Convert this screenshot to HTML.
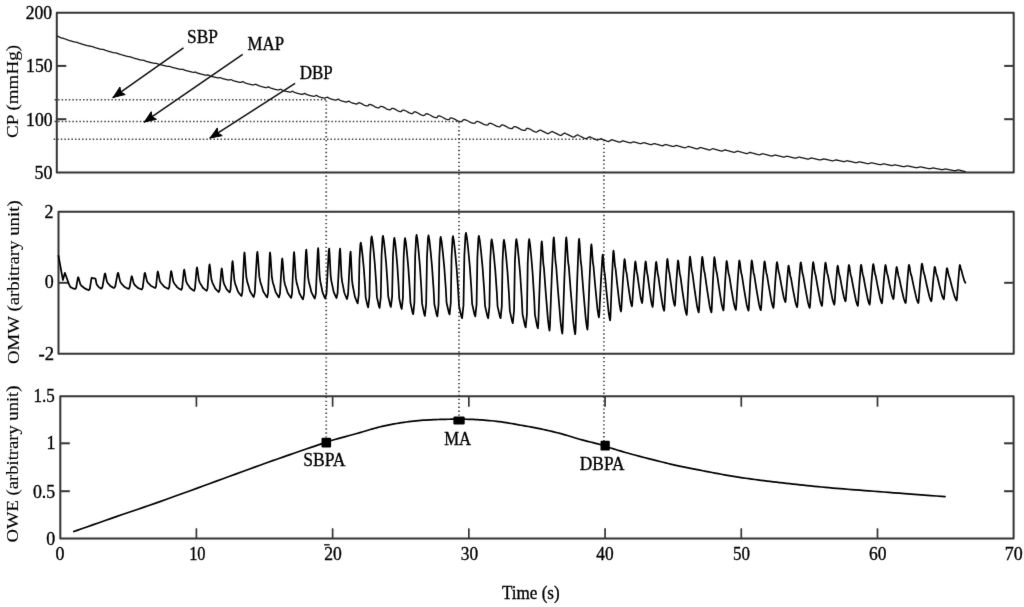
<!DOCTYPE html>
<html><head><meta charset="utf-8"><style>
html,body{margin:0;padding:0;background:#fff;width:1024px;height:607px;overflow:hidden;}
svg{display:block;filter:grayscale(1);}
text{font-family:"Liberation Serif", serif;stroke:#000;}
</style></head><body>
<svg width="1024" height="607" viewBox="0 0 1024 607" font-family='"Liberation Serif", serif' fill="#000">
<defs><filter id="bl" x="0" y="0" width="100%" height="100%" filterUnits="userSpaceOnUse"><feConvolveMatrix order="3" kernelMatrix="0.00716 0.0846 0.00716 0.0846 1 0.0846 0.00716 0.0846 0.00716" divisor="1.367" edgeMode="duplicate"/></filter></defs>
<rect width="1024" height="607" fill="#fff"/>
<g filter="url(#bl)">
<line x1="54.55" y1="99.75" x2="326.0" y2="99.75" stroke="#444" stroke-width="1.5" stroke-dasharray="1.5 2.05"/>
<line x1="54.55" y1="121.4" x2="459.0" y2="121.4" stroke="#444" stroke-width="1.5" stroke-dasharray="1.5 2.05"/>
<line x1="53.65" y1="139.2" x2="604.0" y2="139.2" stroke="#444" stroke-width="1.5" stroke-dasharray="1.5 2.05"/>
<line x1="326.2" y1="100.5" x2="326.2" y2="438.0" stroke="#555" stroke-width="1.9" stroke-dasharray="1.35 2.6"/>
<line x1="459.0" y1="122.2" x2="459.0" y2="416.8" stroke="#555" stroke-width="1.9" stroke-dasharray="1.35 2.6"/>
<line x1="603.9" y1="139.8" x2="603.9" y2="441.0" stroke="#555" stroke-width="1.9" stroke-dasharray="1.35 2.6"/>
<rect x="56.8" y="12.7" width="956.90" height="159.70" fill="none" stroke="#353535" stroke-width="2.0" stroke-linejoin="round"/>
<rect x="58.5" y="211.8" width="955.20" height="142.00" fill="none" stroke="#353535" stroke-width="2.0" stroke-linejoin="round"/>
<rect x="60.3" y="396.2" width="953.30" height="142.30" fill="none" stroke="#353535" stroke-width="2.0" stroke-linejoin="round"/>
<line x1="56.80" y1="65.90" x2="66.30" y2="65.90" stroke="#353535" stroke-width="2.0"/>
<line x1="1004.20" y1="65.90" x2="1013.70" y2="65.90" stroke="#353535" stroke-width="2.0"/>
<line x1="56.80" y1="119.20" x2="66.30" y2="119.20" stroke="#353535" stroke-width="2.0"/>
<line x1="1004.20" y1="119.20" x2="1013.70" y2="119.20" stroke="#353535" stroke-width="2.0"/>
<line x1="58.50" y1="282.80" x2="68.00" y2="282.80" stroke="#353535" stroke-width="2.0"/>
<line x1="1004.20" y1="282.80" x2="1013.70" y2="282.80" stroke="#353535" stroke-width="2.0"/>
<line x1="60.30" y1="443.30" x2="69.80" y2="443.30" stroke="#353535" stroke-width="2.0"/>
<line x1="1004.10" y1="443.30" x2="1013.60" y2="443.30" stroke="#353535" stroke-width="2.0"/>
<line x1="60.30" y1="491.20" x2="69.80" y2="491.20" stroke="#353535" stroke-width="2.0"/>
<line x1="1004.10" y1="491.20" x2="1013.60" y2="491.20" stroke="#353535" stroke-width="2.0"/>
<line x1="196.40" y1="528.30" x2="196.40" y2="538.50" stroke="#353535" stroke-width="1.7"/>
<line x1="196.40" y1="396.20" x2="196.40" y2="406.70" stroke="#353535" stroke-width="1.7"/>
<line x1="332.62" y1="528.30" x2="332.62" y2="538.50" stroke="#353535" stroke-width="1.7"/>
<line x1="332.62" y1="396.20" x2="332.62" y2="406.70" stroke="#353535" stroke-width="1.7"/>
<line x1="468.84" y1="528.30" x2="468.84" y2="538.50" stroke="#353535" stroke-width="1.7"/>
<line x1="468.84" y1="396.20" x2="468.84" y2="406.70" stroke="#353535" stroke-width="1.7"/>
<line x1="605.06" y1="528.30" x2="605.06" y2="538.50" stroke="#353535" stroke-width="1.7"/>
<line x1="605.06" y1="396.20" x2="605.06" y2="406.70" stroke="#353535" stroke-width="1.7"/>
<line x1="741.28" y1="528.30" x2="741.28" y2="538.50" stroke="#353535" stroke-width="1.7"/>
<line x1="741.28" y1="396.20" x2="741.28" y2="406.70" stroke="#353535" stroke-width="1.7"/>
<line x1="877.50" y1="528.30" x2="877.50" y2="538.50" stroke="#353535" stroke-width="1.7"/>
<line x1="877.50" y1="396.20" x2="877.50" y2="406.70" stroke="#353535" stroke-width="1.7"/>
<path d="M57.00,35.99 L57.50,36.22 L58.00,36.44 L58.50,36.67 L59.00,36.90 L59.50,37.12 L60.00,37.35 L60.50,37.57 L61.00,37.80 L61.50,38.00 L62.00,38.08 L62.50,38.17 L63.00,38.26 L63.50,38.37 L64.00,38.56 L64.50,38.74 L65.00,38.93 L65.50,39.12 L66.00,39.30 L66.50,39.49 L67.00,39.67 L67.50,39.86 L68.00,40.03 L68.50,40.20 L69.00,40.37 L69.50,40.52 L70.00,40.67 L70.50,40.82 L71.00,40.97 L71.50,41.12 L72.00,41.27 L72.50,41.42 L73.00,41.57 L73.50,41.71 L74.00,41.85 L74.50,41.97 L75.00,42.05 L75.50,42.10 L76.00,42.16 L76.50,42.23 L77.00,42.39 L77.50,42.58 L78.00,42.78 L78.50,42.97 L79.00,43.16 L79.50,43.32 L80.00,43.48 L80.50,43.64 L81.00,43.79 L81.50,43.95 L82.00,44.10 L82.50,44.26 L83.00,44.42 L83.50,44.57 L84.00,44.72 L84.50,44.87 L85.00,45.02 L85.50,45.17 L86.00,45.32 L86.50,45.46 L87.00,45.60 L87.50,45.74 L88.00,45.85 L88.50,45.94 L89.00,45.98 L89.50,46.02 L90.00,46.06 L90.50,46.18 L91.00,46.33 L91.50,46.46 L92.00,46.60 L92.50,46.74 L93.00,46.87 L93.50,47.01 L94.00,47.15 L94.50,47.36 L95.00,47.57 L95.50,47.74 L96.00,47.89 L96.50,48.05 L97.00,48.20 L97.50,48.35 L98.00,48.49 L98.50,48.64 L99.00,48.78 L99.50,48.92 L100.00,49.05 L100.50,49.17 L101.00,49.28 L101.50,49.32 L102.00,49.37 L102.50,49.41 L103.00,49.46 L103.50,49.55 L104.00,49.72 L104.50,49.93 L105.00,50.14 L105.50,50.33 L106.00,50.50 L106.50,50.65 L107.00,50.80 L107.50,50.96 L108.00,51.11 L108.50,51.26 L109.00,51.41 L109.50,51.55 L110.00,51.70 L110.50,51.84 L111.00,51.98 L111.50,52.13 L112.00,52.27 L112.50,52.41 L113.00,52.53 L113.50,52.64 L114.00,52.72 L114.50,52.78 L115.00,52.83 L115.50,52.88 L116.00,52.94 L116.50,53.04 L117.00,53.20 L117.50,53.40 L118.00,53.61 L118.50,53.81 L119.00,53.98 L119.50,54.14 L120.00,54.30 L120.50,54.45 L121.00,54.60 L121.50,54.75 L122.00,54.90 L122.50,55.05 L123.00,55.20 L123.50,55.34 L124.00,55.48 L124.50,55.62 L125.00,55.77 L125.50,55.91 L126.00,56.05 L126.50,56.19 L127.00,56.33 L127.50,56.45 L128.00,56.57 L128.50,56.62 L129.00,56.67 L129.50,56.71 L130.00,56.77 L130.50,56.91 L131.00,57.09 L131.50,57.29 L132.00,57.48 L132.50,57.66 L133.00,57.81 L133.50,57.97 L134.00,58.11 L134.50,58.26 L135.00,58.41 L135.50,58.56 L136.00,58.71 L136.50,58.85 L137.00,58.99 L137.50,59.13 L138.00,59.28 L138.50,59.42 L139.00,59.56 L139.50,59.70 L140.00,59.84 L140.50,59.96 L141.00,60.07 L141.50,60.11 L142.00,60.13 L142.50,60.15 L143.00,60.17 L143.50,60.29 L144.00,60.47 L144.50,60.67 L145.00,60.87 L145.50,61.07 L146.00,61.22 L146.50,61.38 L147.00,61.53 L147.50,61.68 L148.00,61.83 L148.50,61.98 L149.00,62.12 L149.50,62.25 L150.00,62.38 L150.50,62.50 L151.00,62.62 L151.50,62.74 L152.00,62.86 L152.50,62.98 L153.00,63.10 L153.50,63.22 L154.00,63.33 L154.50,63.41 L155.00,63.39 L155.50,63.35 L156.00,63.32 L156.50,63.43 L157.00,63.61 L157.50,63.80 L158.00,63.98 L158.50,64.16 L159.00,64.30 L159.50,64.44 L160.00,64.57 L160.50,64.70 L161.00,64.83 L161.50,64.96 L162.00,65.10 L162.50,65.23 L163.00,65.35 L163.50,65.47 L164.00,65.60 L164.50,65.72 L165.00,65.84 L165.50,65.96 L166.00,66.09 L166.50,66.21 L167.00,66.32 L167.50,66.40 L168.00,66.43 L168.50,66.40 L169.00,66.37 L169.50,66.38 L170.00,66.51 L170.50,66.69 L171.00,66.89 L171.50,67.09 L172.00,67.25 L172.50,67.40 L173.00,67.54 L173.50,67.67 L174.00,67.80 L174.50,67.93 L175.00,68.07 L175.50,68.20 L176.00,68.33 L176.50,68.45 L177.00,68.58 L177.50,68.70 L178.00,68.83 L178.50,68.95 L179.00,69.07 L179.50,69.19 L180.00,69.30 L180.50,69.38 L181.00,69.38 L181.50,69.34 L182.00,69.30 L182.50,69.30 L183.00,69.44 L183.50,69.64 L184.00,69.85 L184.50,70.06 L185.00,70.23 L185.50,70.38 L186.00,70.52 L186.50,70.66 L187.00,70.79 L187.50,70.93 L188.00,71.07 L188.50,71.21 L189.00,71.34 L189.50,71.46 L190.00,71.59 L190.50,71.71 L191.00,71.84 L191.50,71.97 L192.00,72.09 L192.50,72.21 L193.00,72.30 L193.50,72.36 L194.00,72.30 L194.50,72.24 L195.00,72.18 L195.50,72.20 L196.00,72.39 L196.50,72.62 L197.00,72.84 L197.50,73.05 L198.00,73.21 L198.50,73.36 L199.00,73.50 L199.50,73.64 L200.00,73.78 L200.50,73.92 L201.00,74.06 L201.50,74.20 L202.00,74.33 L202.50,74.45 L203.00,74.58 L203.50,74.71 L204.00,74.84 L204.50,74.96 L205.00,75.09 L205.50,75.18 L206.00,75.25 L206.50,75.18 L207.00,75.10 L207.50,75.01 L208.00,75.00 L208.50,75.18 L209.00,75.43 L209.50,75.68 L210.00,75.91 L210.50,76.07 L211.00,76.23 L211.50,76.37 L212.00,76.50 L212.50,76.63 L213.00,76.77 L213.50,76.90 L214.00,77.02 L214.50,77.13 L215.00,77.25 L215.50,77.36 L216.00,77.48 L216.50,77.59 L217.00,77.70 L217.50,77.79 L218.00,77.85 L218.50,77.83 L219.00,77.76 L219.50,77.69 L220.00,77.63 L220.50,77.74 L221.00,77.96 L221.50,78.19 L222.00,78.40 L222.50,78.55 L223.00,78.69 L223.50,78.82 L224.00,78.95 L224.50,79.08 L225.00,79.21 L225.50,79.33 L226.00,79.44 L226.50,79.56 L227.00,79.67 L227.50,79.79 L228.00,79.90 L228.50,79.97 L229.00,80.02 L229.50,79.90 L230.00,79.76 L230.50,79.63 L231.00,79.58 L231.50,79.76 L232.00,80.04 L232.50,80.31 L233.00,80.55 L233.50,80.72 L234.00,80.87 L234.50,81.01 L235.00,81.15 L235.50,81.29 L236.00,81.43 L236.50,81.57 L237.00,81.69 L237.50,81.81 L238.00,81.93 L238.50,82.05 L239.00,82.17 L239.50,82.29 L240.00,82.40 L240.50,82.43 L241.00,82.40 L241.50,82.18 L242.00,81.96 L242.50,81.74 L243.00,81.69 L243.50,81.94 L244.00,82.27 L244.50,82.59 L245.00,82.85 L245.50,83.03 L246.00,83.20 L246.50,83.35 L247.00,83.50 L247.50,83.65 L248.00,83.80 L248.50,83.96 L249.00,84.09 L249.50,84.21 L250.00,84.34 L250.50,84.46 L251.00,84.59 L251.50,84.71 L252.00,84.83 L252.50,84.90 L253.00,84.94 L253.50,84.90 L254.00,84.73 L254.50,84.56 L255.00,84.40 L255.50,84.25 L256.00,84.32 L256.50,84.57 L257.00,84.89 L257.50,85.20 L258.00,85.46 L258.50,85.64 L259.00,85.81 L259.50,85.96 L260.00,86.10 L260.50,86.25 L261.00,86.40 L261.50,86.56 L262.00,86.70 L262.50,86.82 L263.00,86.95 L263.50,87.07 L264.00,87.20 L264.50,87.32 L265.00,87.44 L265.50,87.56 L266.00,87.62 L266.50,87.64 L267.00,87.44 L267.50,87.20 L268.00,86.96 L268.50,86.84 L269.00,87.05 L269.50,87.38 L270.00,87.70 L270.50,87.99 L271.00,88.17 L271.50,88.34 L272.00,88.49 L272.50,88.64 L273.00,88.80 L273.50,88.95 L274.00,89.10 L274.50,89.22 L275.00,89.33 L275.50,89.45 L276.00,89.57 L276.50,89.68 L277.00,89.79 L277.50,89.90 L278.00,89.93 L278.50,89.96 L279.00,89.79 L279.50,89.62 L280.00,89.45 L280.50,89.32 L281.00,89.42 L281.50,89.68 L282.00,89.97 L282.50,90.25 L283.00,90.43 L283.50,90.59 L284.00,90.73 L284.50,90.86 L285.00,91.00 L285.50,91.14 L286.00,91.28 L286.50,91.40 L287.00,91.51 L287.50,91.62 L288.00,91.73 L288.50,91.85 L289.00,91.96 L289.50,92.06 L290.00,92.11 L290.50,92.12 L291.00,91.90 L291.50,91.64 L292.00,91.39 L292.50,91.26 L293.00,91.46 L293.50,91.79 L294.00,92.11 L294.50,92.40 L295.00,92.57 L295.50,92.74 L296.00,92.88 L296.50,93.02 L297.00,93.17 L297.50,93.32 L298.00,93.46 L298.50,93.58 L299.00,93.70 L299.50,93.81 L300.00,93.93 L300.50,94.05 L301.00,94.16 L301.50,94.27 L302.00,94.28 L302.50,94.29 L303.00,94.05 L303.50,93.80 L304.00,93.56 L304.50,93.37 L305.00,93.47 L305.50,93.78 L306.00,94.13 L306.50,94.47 L307.00,94.65 L307.50,94.81 L308.00,94.96 L308.50,95.10 L309.00,95.24 L309.50,95.39 L310.00,95.53 L310.50,95.65 L311.00,95.76 L311.50,95.88 L312.00,95.99 L312.50,96.10 L313.00,96.21 L313.50,96.28 L314.00,96.29 L314.50,96.21 L315.00,95.96 L315.50,95.72 L316.00,95.48 L316.50,95.34 L317.00,95.52 L317.50,95.92 L318.00,96.32 L318.50,96.56 L319.00,96.75 L319.50,96.90 L320.00,97.06 L320.50,97.22 L321.00,97.38 L321.50,97.51 L322.00,97.63 L322.50,97.75 L323.00,97.87 L323.50,97.98 L324.00,98.06 L324.50,98.08 L325.00,98.09 L325.50,97.89 L326.00,97.69 L326.50,97.49 L327.00,97.30 L327.50,97.21 L328.00,97.40 L328.50,97.79 L329.00,98.18 L329.50,98.44 L330.00,98.63 L330.50,98.79 L331.00,98.95 L331.50,99.11 L332.00,99.28 L332.50,99.41 L333.00,99.53 L333.50,99.66 L334.00,99.79 L334.50,99.91 L335.00,100.02 L335.50,100.05 L336.00,100.07 L336.50,99.89 L337.00,99.68 L337.50,99.47 L338.00,99.26 L338.50,99.19 L339.00,99.46 L339.50,99.89 L340.00,100.29 L340.50,100.50 L341.00,100.68 L341.50,100.84 L342.00,101.01 L342.50,101.18 L343.00,101.33 L343.50,101.46 L344.00,101.59 L344.50,101.71 L345.00,101.84 L345.50,101.96 L346.00,101.98 L346.50,102.01 L347.00,101.84 L347.50,101.64 L348.00,101.44 L348.50,101.25 L349.00,101.19 L349.50,101.45 L350.00,101.88 L350.50,102.28 L351.00,102.50 L351.50,102.69 L352.00,102.85 L352.50,103.02 L353.00,103.19 L353.50,103.35 L354.00,103.48 L354.50,103.61 L355.00,103.73 L355.50,103.86 L356.00,103.98 L356.50,104.01 L357.00,103.97 L357.50,103.67 L358.00,103.03 L358.50,102.86 L359.00,102.75 L359.50,102.84 L360.00,103.01 L360.50,103.22 L361.00,103.43 L361.50,103.67 L362.00,103.91 L362.50,104.18 L363.00,104.47 L363.50,104.76 L364.00,105.12 L364.50,105.35 L365.00,105.50 L365.50,105.65 L366.00,105.80 L366.50,105.92 L367.00,105.94 L367.50,105.90 L368.00,105.76 L368.50,105.07 L369.00,104.67 L369.50,104.49 L370.00,104.43 L370.50,104.53 L371.00,104.70 L371.50,104.92 L372.00,105.14 L372.50,105.38 L373.00,105.63 L373.50,105.89 L374.00,106.19 L374.50,106.49 L375.00,106.83 L375.50,107.17 L376.00,107.32 L376.50,107.47 L377.00,107.63 L377.50,107.78 L378.00,107.89 L378.50,107.88 L379.00,107.82 L379.50,107.49 L380.00,106.78 L380.50,106.51 L381.00,106.32 L381.50,106.33 L382.00,106.50 L382.50,106.68 L383.00,106.90 L383.50,107.13 L384.00,107.37 L384.50,107.62 L385.00,107.90 L385.50,108.20 L386.00,108.50 L386.50,108.87 L387.00,109.11 L387.50,109.27 L388.00,109.42 L388.50,109.57 L389.00,109.71 L389.50,109.79 L390.00,109.75 L390.50,109.71 L391.00,109.20 L391.50,108.61 L392.00,108.43 L392.50,108.29 L393.00,108.34 L393.50,108.51 L394.00,108.72 L394.50,108.95 L395.00,109.19 L395.50,109.44 L396.00,109.72 L396.50,110.03 L397.00,110.34 L397.50,110.72 L398.00,110.98 L398.50,111.13 L399.00,111.28 L399.50,111.44 L400.00,111.56 L400.50,111.58 L401.00,111.52 L401.50,111.33 L402.00,110.62 L402.50,110.25 L403.00,110.07 L403.50,110.03 L404.00,110.16 L404.50,110.34 L405.00,110.56 L405.50,110.78 L406.00,111.03 L406.50,111.27 L407.00,111.54 L407.50,111.84 L408.00,112.15 L408.50,112.49 L409.00,112.84 L409.50,112.99 L410.00,113.15 L410.50,113.30 L411.00,113.45 L411.50,113.57 L412.00,113.57 L412.50,113.50 L413.00,113.27 L413.50,112.46 L414.00,112.04 L414.50,111.82 L415.00,111.77 L415.50,111.91 L416.00,112.08 L416.50,112.31 L417.00,112.54 L417.50,112.79 L418.00,113.04 L418.50,113.30 L419.00,113.62 L419.50,113.93 L420.00,114.27 L420.50,114.66 L421.00,114.85 L421.50,115.00 L422.00,115.15 L422.50,115.31 L423.00,115.45 L423.50,115.53 L424.00,115.47 L424.50,115.41 L425.00,114.88 L425.50,114.13 L426.00,113.93 L426.50,113.73 L427.00,113.74 L427.50,113.91 L428.00,114.09 L428.50,114.31 L429.00,114.53 L429.50,114.77 L430.00,115.01 L430.50,115.26 L431.00,115.56 L431.50,115.86 L432.00,116.16 L432.50,116.52 L433.00,116.84 L433.50,116.99 L434.00,117.14 L434.50,117.30 L435.00,117.45 L435.50,117.58 L436.00,117.66 L436.50,117.59 L437.00,117.52 L437.50,116.78 L438.00,116.17 L438.50,115.95 L439.00,115.84 L439.50,115.95 L440.00,116.11 L440.50,116.31 L441.00,116.53 L441.50,116.75 L442.00,116.99 L442.50,117.23 L443.00,117.50 L443.50,117.79 L444.00,118.08 L444.50,118.41 L445.00,118.77 L445.50,118.95 L446.00,119.10 L446.50,119.25 L447.00,119.40 L447.50,119.54 L448.00,119.66 L448.50,119.63 L449.00,119.57 L449.50,119.20 L450.00,118.42 L450.50,118.12 L451.00,117.91 L451.50,117.91 L452.00,118.08 L452.50,118.25 L453.00,118.47 L453.50,118.69 L454.00,118.92 L454.50,119.15 L455.00,119.37 L455.50,119.64 L456.00,119.92 L456.50,120.20 L457.00,120.52 L457.50,120.88 L458.00,121.01 L458.50,121.14 L459.00,121.28 L459.50,121.41 L460.00,121.54 L460.50,121.64 L461.00,121.60 L461.50,121.52 L462.00,121.40 L462.50,120.63 L463.00,120.02 L463.50,119.81 L464.00,119.61 L464.50,119.61 L465.00,119.75 L465.50,119.91 L466.00,120.11 L466.50,120.31 L467.00,120.52 L467.50,120.75 L468.00,120.97 L468.50,121.23 L469.00,121.51 L469.50,121.79 L470.00,122.10 L470.50,122.45 L471.00,122.64 L471.50,122.77 L472.00,122.91 L472.50,123.04 L473.00,123.17 L473.50,123.28 L474.00,123.30 L474.50,123.23 L475.00,123.15 L475.50,122.45 L476.00,121.80 L476.50,121.57 L477.00,121.40 L477.50,121.42 L478.00,121.57 L478.50,121.73 L479.00,121.93 L479.50,122.13 L480.00,122.34 L480.50,122.57 L481.00,122.79 L481.50,123.05 L482.00,123.33 L482.50,123.61 L483.00,123.93 L483.50,124.27 L484.00,124.42 L484.50,124.55 L485.00,124.69 L485.50,124.82 L486.00,124.95 L486.50,125.05 L487.00,125.05 L487.50,124.97 L488.00,124.79 L488.50,124.01 L489.00,123.53 L489.50,123.31 L490.00,123.21 L490.50,123.30 L491.00,123.45 L491.50,123.64 L492.00,123.84 L492.50,124.05 L493.00,124.28 L493.50,124.51 L494.00,124.76 L494.50,125.04 L495.00,125.32 L495.50,125.63 L496.00,125.98 L496.50,126.14 L497.00,126.28 L497.50,126.41 L498.00,126.55 L498.50,126.68 L499.00,126.78 L499.50,126.74 L500.00,126.66 L500.50,126.27 L501.00,125.47 L501.50,125.16 L502.00,124.93 L502.50,124.91 L503.00,125.07 L503.50,125.24 L504.00,125.45 L504.50,125.66 L505.00,125.89 L505.50,126.13 L506.00,126.36 L506.50,126.65 L507.00,126.95 L507.50,127.24 L508.00,127.61 L508.50,127.89 L509.00,128.03 L509.50,128.17 L510.00,128.31 L510.50,128.45 L511.00,128.56 L511.50,128.59 L512.00,128.51 L512.50,128.43 L513.00,127.70 L513.50,127.02 L514.00,126.79 L514.50,126.60 L515.00,126.63 L515.50,126.78 L516.00,126.96 L516.50,127.17 L517.00,127.38 L517.50,127.60 L518.00,127.84 L518.50,128.07 L519.00,128.35 L519.50,128.64 L520.00,128.93 L520.50,129.27 L521.00,129.63 L521.50,129.79 L522.00,129.92 L522.50,130.06 L523.00,130.20 L523.50,130.33 L524.00,130.43 L524.50,130.42 L525.00,130.32 L525.50,130.10 L526.00,129.22 L526.50,128.67 L527.00,128.41 L527.50,128.30 L528.00,128.38 L528.50,128.54 L529.00,128.75 L529.50,128.97 L530.00,129.20 L530.50,129.45 L531.00,129.70 L531.50,129.99 L532.00,130.30 L532.50,130.61 L533.00,130.97 L533.50,131.33 L534.00,131.48 L534.50,131.62 L535.00,131.76 L535.50,131.90 L536.00,132.02 L536.50,132.09 L537.00,131.88 L537.50,131.53 L538.00,131.17 L538.50,130.84 L539.00,130.56 L539.50,130.27 L540.00,130.03 L540.50,130.09 L541.00,130.36 L541.50,130.68 L542.00,130.94 L542.50,131.12 L543.00,131.39 L543.50,131.66 L544.00,131.93 L544.50,132.19 L545.00,132.44 L545.50,132.69 L546.00,132.94 L546.50,133.19 L547.00,133.38 L547.50,133.56 L548.00,133.70 L548.50,133.57 L549.00,133.23 L549.50,132.89 L550.00,132.55 L550.50,132.25 L551.00,131.97 L551.50,131.70 L552.00,131.49 L552.50,131.55 L553.00,131.80 L553.50,132.13 L554.00,132.41 L554.50,132.58 L555.00,132.81 L555.50,133.08 L556.00,133.35 L556.50,133.61 L557.00,133.86 L557.50,134.11 L558.00,134.35 L558.50,134.60 L559.00,134.85 L559.50,135.04 L560.00,135.23 L560.50,135.38 L561.00,135.42 L561.50,135.14 L562.00,134.76 L562.50,134.37 L563.00,134.02 L563.50,133.70 L564.00,133.39 L564.50,133.13 L565.00,133.18 L565.50,133.43 L566.00,133.74 L566.50,134.02 L567.00,134.20 L567.50,134.41 L568.00,134.67 L568.50,134.93 L569.00,135.18 L569.50,135.43 L570.00,135.67 L570.50,135.91 L571.00,136.15 L571.50,136.39 L572.00,136.62 L572.50,136.80 L573.00,136.98 L573.50,137.12 L574.00,137.10 L574.50,136.76 L575.00,136.37 L575.50,135.97 L576.00,135.63 L576.50,135.31 L577.00,134.99 L577.50,134.83 L578.00,134.98 L578.50,135.28 L579.00,135.58 L579.50,135.81 L580.00,136.00 L580.50,136.27 L581.00,136.54 L581.50,136.81 L582.00,137.07 L582.50,137.32 L583.00,137.56 L583.50,137.81 L584.00,138.06 L584.50,138.28 L585.00,138.47 L585.50,138.64 L586.00,138.74 L586.50,138.56 L587.00,138.23 L587.50,137.90 L588.00,137.59 L588.50,137.33 L589.00,137.07 L589.50,136.81 L590.00,136.83 L590.50,137.06 L591.00,137.35 L591.50,137.59 L592.00,137.76 L592.50,138.00 L593.00,138.25 L593.50,138.50 L594.00,138.73 L594.50,138.96 L595.00,139.19 L595.50,139.42 L596.00,139.64 L596.50,139.82 L597.00,139.98 L597.50,140.08 L598.00,139.96 L598.50,139.73 L599.00,139.50 L599.50,139.29 L600.00,139.11 L600.50,138.93 L601.00,138.78 L601.50,138.86 L602.00,139.10 L602.50,139.36 L603.00,139.57 L603.50,139.75 L604.00,139.97 L604.50,140.17 L605.00,140.37 L605.50,140.56 L606.00,140.74 L606.50,140.93 L607.00,141.12 L607.50,141.26 L608.00,141.40 L608.50,141.50 L609.00,141.41 L609.50,141.06 L610.00,140.72 L610.50,140.40 L611.00,140.12 L611.50,139.84 L612.00,139.71 L612.50,139.86 L613.00,140.09 L613.50,140.29 L614.00,140.41 L614.50,140.58 L615.00,140.77 L615.50,140.95 L616.00,141.13 L616.50,141.30 L617.00,141.47 L617.50,141.64 L618.00,141.82 L618.50,141.94 L619.00,142.07 L619.50,142.16 L620.00,142.05 L620.50,141.81 L621.00,141.58 L621.50,141.37 L622.00,141.18 L622.50,140.99 L623.00,140.89 L623.50,140.98 L624.00,141.17 L624.50,141.34 L625.00,141.45 L625.50,141.59 L626.00,141.75 L626.50,141.90 L627.00,142.05 L627.50,142.20 L628.00,142.34 L628.50,142.49 L629.00,142.63 L629.50,142.73 L630.00,142.84 L630.50,142.89 L631.00,142.77 L631.50,142.57 L632.00,142.37 L632.50,142.20 L633.00,142.04 L633.50,141.88 L634.00,141.87 L634.50,142.02 L635.00,142.19 L635.50,142.32 L636.00,142.45 L636.50,142.60 L637.00,142.75 L637.50,142.89 L638.00,143.03 L638.50,143.17 L639.00,143.31 L639.50,143.44 L640.00,143.54 L640.50,143.63 L641.00,143.60 L641.50,143.43 L642.00,143.25 L642.50,143.09 L643.00,142.95 L643.50,142.81 L644.00,142.71 L644.50,142.78 L645.00,142.96 L645.50,143.14 L646.00,143.25 L646.50,143.40 L647.00,143.56 L647.50,143.72 L648.00,143.87 L648.50,144.02 L649.00,144.17 L649.50,144.31 L650.00,144.44 L650.50,144.55 L651.00,144.64 L651.50,144.61 L652.00,144.42 L652.50,144.22 L653.00,144.04 L653.50,143.89 L654.00,143.73 L654.50,143.62 L655.00,143.69 L655.50,143.85 L656.00,144.03 L656.50,144.16 L657.00,144.27 L657.50,144.42 L658.00,144.58 L658.50,144.73 L659.00,144.87 L659.50,145.02 L660.00,145.16 L660.50,145.30 L661.00,145.44 L661.50,145.55 L662.00,145.66 L662.50,145.74 L663.00,145.67 L663.50,145.42 L664.00,145.17 L664.50,144.94 L665.00,144.74 L665.50,144.53 L666.00,144.51 L666.50,144.65 L667.00,144.84 L667.50,144.99 L668.00,145.09 L668.50,145.25 L669.00,145.40 L669.50,145.56 L670.00,145.70 L670.50,145.85 L671.00,145.99 L671.50,146.13 L672.00,146.26 L672.50,146.37 L673.00,146.47 L673.50,146.50 L674.00,146.32 L674.50,146.11 L675.00,145.90 L675.50,145.72 L676.00,145.55 L676.50,145.45 L677.00,145.54 L677.50,145.72 L678.00,145.89 L678.50,146.03 L679.00,146.14 L679.50,146.30 L680.00,146.45 L680.50,146.61 L681.00,146.77 L681.50,146.91 L682.00,147.06 L682.50,147.21 L683.00,147.35 L683.50,147.50 L684.00,147.61 L684.50,147.72 L685.00,147.81 L685.50,147.80 L686.00,147.52 L686.50,147.24 L687.00,146.97 L687.50,146.74 L688.00,146.51 L688.50,146.40 L689.00,146.53 L689.50,146.72 L690.00,146.90 L690.50,147.04 L691.00,147.15 L691.50,147.31 L692.00,147.47 L692.50,147.63 L693.00,147.78 L693.50,147.93 L694.00,148.08 L694.50,148.23 L695.00,148.38 L695.50,148.52 L696.00,148.63 L696.50,148.75 L697.00,148.84 L697.50,148.83 L698.00,148.61 L698.50,148.36 L699.00,148.12 L699.50,147.92 L700.00,147.73 L700.50,147.55 L701.00,147.59 L701.50,147.73 L702.00,147.92 L702.50,148.08 L703.00,148.20 L703.50,148.32 L704.00,148.47 L704.50,148.62 L705.00,148.78 L705.50,148.93 L706.00,149.07 L706.50,149.22 L707.00,149.36 L707.50,149.50 L708.00,149.65 L708.50,149.76 L709.00,149.87 L709.50,149.97 L710.00,150.02 L710.50,149.80 L711.00,149.50 L711.50,149.21 L712.00,148.97 L712.50,148.72 L713.00,148.68 L713.50,148.80 L714.00,148.99 L714.50,149.15 L715.00,149.28 L715.50,149.39 L716.00,149.54 L716.50,149.69 L717.00,149.84 L717.50,149.99 L718.00,150.13 L718.50,150.27 L719.00,150.41 L719.50,150.55 L720.00,150.69 L720.50,150.80 L721.00,150.91 L721.50,151.01 L722.00,151.06 L722.50,150.90 L723.00,150.67 L723.50,150.44 L724.00,150.25 L724.50,150.07 L725.00,149.92 L725.50,149.99 L726.00,150.14 L726.50,150.31 L727.00,150.46 L727.50,150.57 L728.00,150.69 L728.50,150.83 L729.00,150.98 L729.50,151.13 L730.00,151.27 L730.50,151.40 L731.00,151.54 L731.50,151.68 L732.00,151.81 L732.50,151.95 L733.00,152.05 L733.50,152.16 L734.00,152.25 L734.50,152.28 L735.00,152.12 L735.50,151.92 L736.00,151.71 L736.50,151.54 L737.00,151.37 L737.50,151.20 L738.00,151.21 L738.50,151.33 L739.00,151.51 L739.50,151.67 L740.00,151.80 L740.50,151.91 L741.00,152.06 L741.50,152.20 L742.00,152.35 L742.50,152.50 L743.00,152.64 L743.50,152.78 L744.00,152.92 L744.50,153.05 L745.00,153.19 L745.50,153.31 L746.00,153.42 L746.50,153.52 L747.00,153.61 L747.50,153.48 L748.00,153.25 L748.50,153.02 L749.00,152.81 L749.50,152.62 L750.00,152.44 L750.50,152.48 L751.00,152.62 L751.50,152.80 L752.00,152.96 L752.50,153.07 L753.00,153.19 L753.50,153.34 L754.00,153.48 L754.50,153.63 L755.00,153.78 L755.50,153.92 L756.00,154.05 L756.50,154.19 L757.00,154.33 L757.50,154.47 L758.00,154.58 L758.50,154.69 L759.00,154.78 L759.50,154.81 L760.00,154.67 L760.50,154.48 L761.00,154.29 L761.50,154.12 L762.00,153.97 L762.50,153.82 L763.00,153.75 L763.50,153.84 L764.00,154.00 L764.50,154.16 L765.00,154.30 L765.50,154.40 L766.00,154.54 L766.50,154.69 L767.00,154.83 L767.50,154.97 L768.00,155.11 L768.50,155.24 L769.00,155.38 L769.50,155.51 L770.00,155.65 L770.50,155.76 L771.00,155.87 L771.50,155.96 L772.00,156.02 L772.50,155.91 L773.00,155.72 L773.50,155.53 L774.00,155.37 L774.50,155.22 L775.00,155.07 L775.50,155.02 L776.00,155.13 L776.50,155.29 L777.00,155.44 L777.50,155.55 L778.00,155.66 L778.50,155.79 L779.00,155.93 L779.50,156.06 L780.00,156.19 L780.50,156.32 L781.00,156.44 L781.50,156.57 L782.00,156.70 L782.50,156.81 L783.00,156.91 L783.50,157.00 L784.00,157.06 L784.50,156.95 L785.00,156.79 L785.50,156.61 L786.00,156.47 L786.50,156.33 L787.00,156.24 L787.50,156.32 L788.00,156.46 L788.50,156.60 L789.00,156.72 L789.50,156.80 L790.00,156.92 L790.50,157.05 L791.00,157.17 L791.50,157.30 L792.00,157.41 L792.50,157.53 L793.00,157.64 L793.50,157.76 L794.00,157.87 L794.50,157.96 L795.00,158.05 L795.50,158.12 L796.00,158.08 L796.50,157.89 L797.00,157.70 L797.50,157.51 L798.00,157.36 L798.50,157.21 L799.00,157.07 L799.50,157.10 L800.00,157.22 L800.50,157.38 L801.00,157.52 L801.50,157.61 L802.00,157.71 L802.50,157.84 L803.00,157.97 L803.50,158.10 L804.00,158.22 L804.50,158.34 L805.00,158.46 L805.50,158.58 L806.00,158.70 L806.50,158.81 L807.00,158.91 L807.50,159.00 L808.00,159.07 L808.50,159.06 L809.00,158.87 L809.50,158.66 L810.00,158.46 L810.50,158.29 L811.00,158.12 L811.50,158.00 L812.00,158.05 L812.50,158.18 L813.00,158.33 L813.50,158.46 L814.00,158.54 L814.50,158.66 L815.00,158.78 L815.50,158.91 L816.00,159.04 L816.50,159.16 L817.00,159.27 L817.50,159.39 L818.00,159.51 L818.50,159.63 L819.00,159.73 L819.50,159.82 L820.00,159.90 L820.50,159.94 L821.00,159.83 L821.50,159.64 L822.00,159.45 L822.50,159.29 L823.00,159.14 L823.50,158.98 L824.00,158.93 L824.50,159.03 L825.00,159.17 L825.50,159.31 L826.00,159.42 L826.50,159.50 L827.00,159.62 L827.50,159.74 L828.00,159.87 L828.50,159.99 L829.00,160.10 L829.50,160.21 L830.00,160.33 L830.50,160.44 L831.00,160.56 L831.50,160.65 L832.00,160.73 L832.50,160.81 L833.00,160.83 L833.50,160.69 L834.00,160.51 L834.50,160.33 L835.00,160.19 L835.50,160.05 L836.00,159.94 L836.50,159.99 L837.00,160.12 L837.50,160.26 L838.00,160.36 L838.50,160.45 L839.00,160.57 L839.50,160.69 L840.00,160.80 L840.50,160.92 L841.00,161.03 L841.50,161.14 L842.00,161.25 L842.50,161.36 L843.00,161.44 L843.50,161.52 L844.00,161.59 L844.50,161.52 L845.00,161.36 L845.50,161.20 L846.00,161.06 L846.50,160.94 L847.00,160.81 L847.50,160.77 L848.00,160.87 L848.50,161.02 L849.00,161.15 L849.50,161.26 L850.00,161.35 L850.50,161.48 L851.00,161.60 L851.50,161.73 L852.00,161.85 L852.50,161.97 L853.00,162.08 L853.50,162.20 L854.00,162.32 L854.50,162.43 L855.00,162.53 L855.50,162.62 L856.00,162.70 L856.50,162.72 L857.00,162.56 L857.50,162.37 L858.00,162.19 L858.50,162.03 L859.00,161.88 L859.50,161.79 L860.00,161.87 L860.50,162.01 L861.00,162.15 L861.50,162.26 L862.00,162.35 L862.50,162.48 L863.00,162.60 L863.50,162.73 L864.00,162.85 L864.50,162.97 L865.00,163.08 L865.50,163.20 L866.00,163.32 L866.50,163.43 L867.00,163.52 L867.50,163.61 L868.00,163.69 L868.50,163.66 L869.00,163.50 L869.50,163.34 L870.00,163.18 L870.50,163.05 L871.00,162.92 L871.50,162.80 L872.00,162.84 L872.50,162.96 L873.00,163.10 L873.50,163.23 L874.00,163.32 L874.50,163.43 L875.00,163.55 L875.50,163.67 L876.00,163.80 L876.50,163.92 L877.00,164.03 L877.50,164.15 L878.00,164.26 L878.50,164.38 L879.00,164.48 L879.50,164.57 L880.00,164.65 L880.50,164.70 L881.00,164.60 L881.50,164.45 L882.00,164.29 L882.50,164.15 L883.00,164.03 L883.50,163.90 L884.00,163.86 L884.50,163.96 L885.00,164.10 L885.50,164.23 L886.00,164.32 L886.50,164.42 L887.00,164.54 L887.50,164.66 L888.00,164.78 L888.50,164.89 L889.00,165.00 L889.50,165.11 L890.00,165.22 L890.50,165.33 L891.00,165.41 L891.50,165.50 L892.00,165.55 L892.50,165.46 L893.00,165.32 L893.50,165.18 L894.00,165.06 L894.50,164.95 L895.00,164.87 L895.50,164.93 L896.00,165.04 L896.50,165.18 L897.00,165.30 L897.50,165.38 L898.00,165.48 L898.50,165.59 L899.00,165.71 L899.50,165.82 L900.00,165.93 L900.50,166.04 L901.00,166.14 L901.50,166.25 L902.00,166.36 L902.50,166.46 L903.00,166.54 L903.50,166.63 L904.00,166.69 L904.50,166.66 L905.00,166.49 L905.50,166.32 L906.00,166.17 L906.50,166.03 L907.00,165.90 L907.50,165.85 L908.00,165.94 L908.50,166.08 L909.00,166.20 L909.50,166.31 L910.00,166.40 L910.50,166.50 L911.00,166.61 L911.50,166.73 L912.00,166.84 L912.50,166.95 L913.00,167.05 L913.50,167.16 L914.00,167.26 L914.50,167.37 L915.00,167.47 L915.50,167.56 L916.00,167.64 L916.50,167.71 L917.00,167.73 L917.50,167.62 L918.00,167.46 L918.50,167.30 L919.00,167.16 L919.50,167.03 L920.00,166.91 L920.50,166.87 L921.00,166.96 L921.50,167.09 L922.00,167.21 L922.50,167.32 L923.00,167.40 L923.50,167.50 L924.00,167.61 L924.50,167.73 L925.00,167.84 L925.50,167.94 L926.00,168.05 L926.50,168.15 L927.00,168.26 L927.50,168.36 L928.00,168.46 L928.50,168.55 L929.00,168.63 L929.50,168.70 L930.00,168.73 L930.50,168.61 L931.00,168.47 L931.50,168.32 L932.00,168.21 L932.50,168.09 L933.00,167.99 L933.50,168.02 L934.00,168.12 L934.50,168.24 L935.00,168.35 L935.50,168.43 L936.00,168.52 L936.50,168.62 L937.00,168.72 L937.50,168.83 L938.00,168.93 L938.50,169.03 L939.00,169.12 L939.50,169.22 L940.00,169.32 L940.50,169.42 L941.00,169.50 L941.50,169.57 L942.00,169.64 L942.50,169.67 L943.00,169.55 L943.50,169.41 L944.00,169.27 L944.50,169.16 L945.00,169.04 L945.50,169.00 L946.00,169.08 L946.50,169.20 L947.00,169.31 L947.50,169.41 L948.00,169.48 L948.50,169.57 L949.00,169.67 L949.50,169.77 L950.00,169.87 L950.50,169.97 L951.00,170.06 L951.50,170.16 L952.00,170.25 L952.50,170.34 L953.00,170.44 L953.50,170.52 L954.00,170.59 L954.50,170.67 L955.00,170.73 L955.50,170.69 L956.00,170.53 L956.50,170.37 L957.00,170.22 L957.50,170.09 L958.00,169.96 L958.50,169.95 L959.00,170.05 L959.50,170.16 L960.00,170.23 L960.50,170.38 L961.00,170.53 L961.50,170.67 L962.00,170.81 L962.50,170.95 L963.00,171.09 L963.50,171.21 L964.00,171.32 L964.50,171.41 L965.00,171.50" fill="none" stroke="#151515" stroke-width="1.3" stroke-linejoin="round" stroke-linecap="round" />
<path d="M58.50,255.90 L62.90,280.00 L64.90,272.80 L69.00,284.40 L69.31,284.85 L69.76,285.84 L70.26,286.88 L70.89,287.37 L71.83,287.82 L72.78,288.31 L74.04,288.63 L74.80,288.81 L75.30,288.90 L76.17,287.73 L76.95,283.05 L77.85,277.78 L78.20,277.20 L78.74,278.49 L79.50,281.33 L80.36,284.30 L81.44,285.71 L83.06,287.00 L84.68,288.42 L86.84,289.33 L88.14,289.84 L89.00,290.10 L89.84,288.86 L90.60,283.90 L91.46,278.32 L91.80,277.70 L91.98,277.78 L92.23,277.96 L92.52,278.14 L92.88,278.23 L93.42,278.31 L93.96,278.40 L94.68,278.45 L95.11,278.48 L95.40,278.50 L95.70,279.51 L96.11,281.73 L96.58,284.06 L97.17,285.17 L98.06,286.18 L98.94,287.29 L100.12,287.99 L100.83,288.40 L101.30,288.60 L102.44,287.08 L103.47,281.00 L104.64,274.16 L105.10,273.40 L105.54,274.86 L106.17,278.07 L106.88,281.43 L107.77,283.04 L109.10,284.50 L110.44,286.10 L112.22,287.12 L113.29,287.71 L114.00,288.00 L115.23,286.48 L116.34,280.40 L117.61,273.56 L118.10,272.80 L118.62,274.41 L119.36,277.95 L120.20,281.65 L121.25,283.43 L122.82,285.04 L124.40,286.81 L126.50,287.93 L127.76,288.58 L128.60,288.90 L129.56,287.63 L130.42,282.55 L131.42,276.83 L131.80,276.20 L132.30,277.53 L132.99,280.46 L133.78,283.51 L134.77,284.98 L136.25,286.31 L137.74,287.77 L139.72,288.70 L140.91,289.23 L141.70,289.50 L142.66,287.83 L143.52,281.15 L144.52,273.63 L144.90,272.80 L145.42,274.32 L146.15,277.66 L146.98,281.16 L148.02,282.83 L149.58,284.35 L151.14,286.02 L153.22,287.09 L154.47,287.70 L155.30,288.00 L156.05,286.35 L156.73,279.75 L157.50,272.32 L157.80,271.50 L158.33,273.24 L159.07,277.07 L159.92,281.07 L160.98,282.98 L162.57,284.72 L164.16,286.64 L166.28,287.86 L167.55,288.55 L168.40,288.90 L169.24,287.12 L170.00,280.00 L170.86,271.99 L171.20,271.10 L171.70,272.97 L172.41,277.08 L173.22,281.38 L174.23,283.44 L175.75,285.31 L177.26,287.37 L179.28,288.68 L180.49,289.43 L181.30,289.80 L182.17,287.79 L182.95,279.75 L183.85,270.70 L184.20,269.70 L184.69,271.81 L185.39,276.45 L186.18,281.31 L187.17,283.63 L188.66,285.74 L190.14,288.06 L192.12,289.53 L193.31,290.38 L194.10,290.80 L194.97,288.46 L195.75,279.10 L196.65,268.57 L197.00,267.40 L197.49,269.74 L198.16,274.89 L198.94,280.27 L199.91,282.84 L201.37,285.18 L202.82,287.76 L204.76,289.40 L205.92,290.33 L206.70,290.80 L207.57,288.16 L208.35,277.60 L209.25,265.72 L209.60,264.40 L210.06,267.16 L210.70,273.23 L211.44,279.58 L212.36,282.62 L213.74,285.38 L215.12,288.41 L216.96,290.34 L218.06,291.45 L218.80,292.00 L219.70,289.65 L220.51,280.25 L221.44,269.68 L221.80,268.50 L222.20,270.88 L222.75,276.12 L223.38,281.59 L224.17,284.21 L225.35,286.59 L226.54,289.21 L228.12,290.87 L229.07,291.82 L229.70,292.30 L230.57,289.18 L231.35,276.70 L232.25,262.66 L232.60,261.10 L233.04,264.59 L233.67,272.27 L234.38,280.30 L235.27,284.13 L236.60,287.62 L237.94,291.46 L239.72,293.91 L240.79,295.30 L241.50,296.00 L242.40,291.65 L243.21,274.25 L244.14,254.68 L244.50,252.50 L244.96,256.95 L245.60,266.74 L246.34,276.98 L247.26,281.87 L248.64,286.32 L250.02,291.21 L251.86,294.33 L252.96,296.11 L253.70,297.00 L254.81,292.48 L255.81,274.40 L256.96,254.06 L257.40,251.80 L257.89,256.36 L258.58,266.39 L259.36,276.88 L260.34,281.90 L261.81,286.46 L263.28,291.47 L265.24,294.66 L266.42,296.49 L267.20,297.40 L268.07,292.91 L268.85,274.95 L269.75,254.75 L270.10,252.50 L270.55,256.99 L271.17,266.87 L271.88,277.19 L272.77,282.13 L274.11,286.62 L275.44,291.56 L277.22,294.71 L278.29,296.50 L279.00,297.40 L279.99,293.51 L280.88,277.95 L281.90,260.44 L282.30,258.50 L282.75,262.44 L283.37,271.11 L284.08,280.17 L284.97,284.50 L286.31,288.44 L287.64,292.78 L289.42,295.54 L290.49,297.11 L291.20,297.90 L292.07,293.33 L292.85,275.05 L293.75,254.48 L294.10,252.20 L294.55,256.92 L295.17,267.30 L295.88,278.16 L296.77,283.35 L298.11,288.07 L299.44,293.26 L301.22,296.57 L302.29,298.46 L303.00,299.40 L303.99,294.42 L304.88,274.50 L305.90,252.09 L306.30,249.60 L306.73,254.50 L307.32,265.28 L308.00,276.55 L308.85,281.94 L310.12,286.84 L311.40,292.23 L313.10,295.66 L314.12,297.62 L314.80,298.60 L315.82,293.56 L316.74,273.40 L317.79,250.72 L318.20,248.20 L318.56,253.24 L319.05,264.33 L319.62,275.92 L320.33,281.46 L321.39,286.50 L322.46,292.05 L323.88,295.58 L324.73,297.59 L325.30,298.60 L326.47,293.60 L327.52,273.60 L328.73,251.10 L329.20,248.60 L329.56,253.54 L330.08,264.41 L330.66,275.77 L331.39,281.20 L332.49,286.14 L333.58,291.58 L335.04,295.04 L335.92,297.01 L336.50,298.00 L337.58,293.06 L338.55,273.30 L339.67,251.07 L340.10,248.60 L340.45,253.64 L340.93,264.73 L341.48,276.32 L342.17,281.86 L343.21,286.90 L344.24,292.45 L345.62,295.98 L346.45,297.99 L347.00,299.00 L348.08,294.26 L349.05,275.30 L350.17,253.97 L350.60,251.60 L350.96,256.78 L351.45,268.18 L352.02,280.09 L352.73,285.79 L353.80,290.97 L354.86,296.67 L356.28,300.29 L357.13,302.36 L357.70,303.40 L358.78,294.29 L359.50,259.09 L360.37,244.52 L360.80,242.70 L361.54,246.58 L362.58,255.62 L363.76,267.89 L365.02,285.34 L365.68,297.61 L366.72,302.13 L367.61,306.01 L368.20,307.30 L369.43,296.67 L370.23,255.54 L371.21,238.53 L371.70,236.40 L372.49,240.69 L373.60,250.70 L374.86,264.28 L376.20,283.59 L376.91,297.17 L378.02,302.18 L378.97,306.47 L379.60,307.90 L380.79,297.08 L381.57,255.27 L382.52,237.96 L383.00,235.80 L383.79,240.07 L384.90,250.02 L386.16,263.53 L387.50,282.73 L388.21,296.23 L389.32,301.21 L390.27,305.48 L390.90,306.90 L392.12,296.53 L392.93,256.46 L393.91,239.87 L394.40,237.80 L395.13,242.07 L396.15,252.02 L397.32,265.53 L398.56,284.73 L399.22,298.23 L400.24,303.21 L401.12,307.48 L401.70,308.90 L402.89,298.29 L403.67,257.29 L404.62,240.32 L405.10,238.20 L405.91,242.76 L407.04,253.40 L408.34,267.84 L409.72,288.36 L410.45,302.80 L411.58,308.12 L412.55,312.68 L413.20,314.20 L414.39,302.29 L415.17,256.24 L416.12,237.18 L416.60,234.80 L417.43,239.66 L418.59,251.00 L419.92,266.39 L421.33,288.26 L422.08,303.65 L423.24,309.32 L424.24,314.18 L424.90,315.80 L426.16,303.74 L426.99,257.11 L428.00,237.81 L428.50,235.40 L429.39,240.26 L430.64,251.60 L432.06,266.99 L433.57,288.86 L434.37,304.25 L435.62,309.92 L436.69,314.78 L437.40,316.40 L438.56,304.46 L439.31,258.29 L440.24,239.19 L440.70,236.80 L441.59,241.46 L442.84,252.32 L444.26,267.06 L445.77,288.02 L446.57,302.76 L447.82,308.19 L448.89,312.85 L449.60,314.40 L450.79,302.67 L451.57,257.31 L452.52,238.55 L453.00,236.20 L453.91,241.12 L455.18,252.60 L456.64,268.18 L458.19,290.32 L459.01,305.90 L460.28,311.64 L461.37,316.56 L462.10,318.20 L463.47,305.39 L464.36,255.86 L465.45,235.36 L466.00,232.80 L466.93,237.82 L468.23,249.52 L469.72,265.40 L471.30,287.98 L472.14,303.86 L473.44,309.71 L474.56,314.73 L475.30,316.40 L476.56,304.31 L477.39,257.56 L478.40,238.22 L478.90,235.80 L479.83,240.74 L481.13,252.28 L482.62,267.94 L484.20,290.18 L485.04,305.84 L486.34,311.61 L487.46,316.55 L488.20,318.20 L489.43,306.38 L490.23,260.68 L491.21,241.76 L491.70,239.40 L492.59,244.13 L493.84,255.16 L495.26,270.13 L496.77,291.41 L497.57,306.38 L498.82,311.90 L499.89,316.62 L500.60,318.20 L501.79,306.44 L502.57,260.97 L503.52,242.15 L504.00,239.80 L504.88,244.80 L506.11,256.46 L507.52,272.29 L509.02,294.78 L509.81,310.61 L511.04,316.44 L512.10,321.43 L512.80,323.10 L514.06,310.52 L514.89,261.85 L515.90,241.72 L516.40,239.20 L517.33,244.49 L518.63,256.82 L520.12,273.56 L521.70,297.35 L522.54,314.09 L523.84,320.25 L524.96,325.54 L525.70,327.30 L526.93,314.09 L527.73,262.99 L528.71,241.84 L529.20,239.20 L530.07,244.55 L531.29,257.02 L532.68,273.95 L534.16,298.01 L534.94,314.94 L536.16,321.17 L537.20,326.52 L537.90,328.30 L538.29,323.95 L539.85,280.45 L541.41,243.91 L541.80,241.30 L542.26,245.77 L542.80,255.59 L543.34,263.62 L543.96,268.09 L545.65,291.31 L547.96,319.88 L548.96,327.92 L549.50,330.60 L549.93,325.94 L551.65,279.34 L553.37,240.20 L553.80,237.40 L554.31,242.21 L554.90,252.79 L555.50,261.45 L556.18,266.26 L558.05,291.27 L560.60,322.06 L561.70,330.71 L562.30,333.60 L562.70,328.79 L564.30,280.69 L565.90,240.29 L566.30,237.40 L566.83,242.24 L567.46,252.89 L568.08,261.60 L568.79,266.44 L570.75,291.61 L573.42,322.58 L574.58,331.30 L575.20,334.20 L575.59,329.43 L577.15,281.73 L578.71,241.66 L579.10,238.80 L579.60,243.34 L580.18,253.33 L580.76,261.50 L581.42,266.04 L583.25,289.65 L585.74,318.70 L586.82,326.88 L587.40,329.60 L587.80,325.34 L589.40,282.69 L591.00,246.86 L591.40,244.30 L591.85,247.96 L592.38,256.00 L592.90,262.57 L593.50,266.23 L595.15,285.24 L597.40,308.63 L598.38,315.21 L598.90,317.40 L599.29,314.26 L600.85,282.86 L602.41,256.48 L602.80,254.60 L603.24,257.89 L603.75,265.13 L604.26,271.05 L604.84,274.34 L606.45,291.45 L608.64,312.50 L609.59,318.43 L610.10,320.40 L610.44,316.91 L611.80,282.01 L613.16,252.69 L613.50,250.60 L613.95,253.64 L614.48,260.34 L615.00,265.82 L615.60,268.87 L617.25,284.70 L619.50,304.19 L620.48,309.67 L621.00,311.50 L621.36,308.88 L622.80,282.68 L624.24,260.67 L624.60,259.10 L625.04,261.46 L625.55,266.65 L626.06,270.90 L626.64,273.26 L628.25,285.53 L630.44,300.64 L631.39,304.88 L631.90,306.30 L632.25,304.06 L633.65,281.66 L635.05,262.84 L635.40,261.50 L635.80,263.57 L636.27,268.14 L636.74,271.88 L637.28,273.95 L638.75,284.74 L640.76,298.02 L641.63,301.75 L642.10,303.00 L642.46,300.93 L643.90,280.18 L645.34,262.75 L645.70,261.50 L646.11,263.77 L646.60,268.76 L647.08,272.85 L647.63,275.12 L649.15,286.92 L651.22,301.45 L652.12,305.54 L652.60,306.90 L652.96,304.65 L654.40,282.15 L655.84,263.25 L656.20,261.90 L656.67,264.34 L657.23,269.72 L657.78,274.12 L658.41,276.57 L660.15,289.28 L662.52,304.93 L663.55,309.33 L664.10,310.80 L664.43,308.21 L665.75,282.31 L667.07,260.55 L667.40,259.00 L667.84,261.34 L668.36,266.49 L668.88,270.70 L669.47,273.04 L671.10,285.21 L673.32,300.18 L674.28,304.40 L674.80,305.80 L675.13,303.54 L676.45,280.88 L677.77,261.86 L678.10,260.50 L678.62,263.22 L679.22,269.20 L679.82,274.10 L680.51,276.82 L682.40,290.96 L684.98,308.37 L686.10,313.27 L686.70,314.90 L687.03,311.99 L688.35,282.89 L689.67,258.45 L690.00,256.70 L690.52,259.49 L691.13,265.61 L691.74,270.62 L692.44,273.41 L694.35,287.89 L696.96,305.72 L698.09,310.73 L698.70,312.40 L699.06,309.62 L700.50,281.88 L701.94,258.56 L702.30,256.90 L702.85,259.67 L703.48,265.78 L704.12,270.77 L704.85,273.55 L706.85,287.98 L709.58,305.74 L710.76,310.73 L711.40,312.40 L711.70,309.64 L712.90,282.04 L714.10,258.86 L714.40,257.20 L714.94,259.86 L715.57,265.71 L716.20,270.50 L716.92,273.16 L718.90,286.99 L721.60,304.02 L722.77,308.80 L723.40,310.40 L723.73,307.93 L725.05,283.23 L726.37,262.48 L726.70,261.00 L727.25,263.44 L727.88,268.82 L728.52,273.23 L729.25,275.67 L731.25,288.38 L733.98,304.03 L735.16,308.43 L735.80,309.90 L736.16,307.43 L737.60,282.73 L739.04,261.98 L739.40,260.50 L739.95,263.01 L740.58,268.53 L741.22,273.05 L741.95,275.56 L743.95,288.61 L746.68,304.68 L747.86,309.19 L748.50,310.70 L748.83,308.19 L750.15,283.09 L751.47,262.01 L751.80,260.50 L752.34,262.99 L752.97,268.45 L753.60,272.93 L754.32,275.41 L756.30,288.33 L759.00,304.24 L760.17,308.71 L760.80,310.20 L761.18,307.75 L762.70,283.31 L764.22,262.77 L764.60,261.30 L765.13,263.63 L765.74,268.76 L766.36,272.95 L767.06,275.28 L769.00,287.40 L771.64,302.31 L772.78,306.50 L773.40,307.90 L773.76,305.61 L775.20,282.71 L776.64,263.47 L777.00,262.10 L777.50,264.10 L778.09,268.48 L778.68,272.08 L779.35,274.07 L781.20,284.44 L783.72,297.21 L784.81,300.80 L785.40,302.00 L785.72,300.18 L787.00,281.98 L788.28,266.69 L788.60,265.60 L789.11,267.68 L789.71,272.26 L790.30,276.00 L790.98,278.08 L792.85,288.90 L795.40,302.21 L796.50,305.95 L797.10,307.20 L797.47,304.96 L798.95,282.56 L800.43,263.74 L800.80,262.40 L801.33,264.67 L801.96,269.68 L802.58,273.77 L803.29,276.05 L805.25,287.88 L807.92,302.44 L809.08,306.53 L809.70,307.90 L810.05,305.61 L811.45,282.71 L812.85,263.47 L813.20,262.10 L813.72,264.29 L814.33,269.11 L814.94,273.05 L815.64,275.24 L817.55,286.63 L820.16,300.64 L821.29,304.59 L821.90,305.90 L822.26,303.74 L823.70,282.14 L825.14,264.00 L825.50,262.70 L826.03,264.80 L826.64,269.40 L827.26,273.18 L827.96,275.27 L829.90,286.16 L832.54,299.57 L833.68,303.34 L834.30,304.60 L834.64,302.66 L836.00,283.20 L837.36,266.87 L837.70,265.70 L838.17,267.48 L838.71,271.40 L839.26,274.60 L839.88,276.38 L841.60,285.64 L843.94,297.03 L844.95,300.23 L845.50,301.30 L845.85,299.49 L847.25,281.33 L848.65,266.09 L849.00,265.00 L849.53,267.05 L850.14,271.54 L850.76,275.23 L851.46,277.27 L853.40,287.90 L856.04,300.99 L857.18,304.67 L857.80,305.90 L858.13,303.84 L859.45,283.30 L860.77,266.03 L861.10,264.80 L861.61,266.79 L862.21,271.17 L862.80,274.75 L863.48,276.74 L865.35,287.09 L867.90,299.82 L869.00,303.41 L869.60,304.60 L869.97,302.58 L871.45,282.33 L872.93,265.32 L873.30,264.10 L873.82,266.06 L874.42,270.37 L875.02,273.90 L875.71,275.86 L877.60,286.05 L880.18,298.60 L881.30,302.12 L881.90,303.30 L882.26,301.38 L883.70,282.24 L885.14,266.15 L885.50,265.00 L885.97,266.70 L886.53,270.44 L887.08,273.50 L887.71,275.20 L889.45,284.04 L891.82,294.92 L892.85,297.98 L893.40,299.00 L893.73,297.40 L895.05,281.40 L896.37,267.96 L896.70,267.00 L897.23,268.81 L897.86,272.78 L898.48,276.02 L899.19,277.83 L901.15,287.22 L903.82,298.77 L904.98,302.02 L905.60,303.10 L905.94,301.19 L907.30,282.04 L908.66,265.95 L909.00,264.80 L909.56,266.71 L910.21,270.91 L910.86,274.35 L911.60,276.26 L913.65,286.19 L916.44,298.42 L917.65,301.85 L918.30,303.00 L918.67,301.04 L920.15,281.38 L921.63,264.88 L922.00,263.70 L922.56,265.58 L923.21,269.72 L923.86,273.10 L924.60,274.98 L926.65,284.76 L929.44,296.79 L930.65,300.17 L931.30,301.30 L931.65,299.57 L933.05,282.32 L934.45,267.84 L934.80,266.80 L935.34,268.43 L935.97,272.00 L936.60,274.93 L937.32,276.55 L939.30,285.00 L942.00,295.40 L943.17,298.32 L943.80,299.30 L944.12,297.74 L945.40,282.14 L946.68,269.04 L947.00,268.10 L947.58,269.73 L948.25,273.30 L948.92,276.23 L949.69,277.85 L951.80,286.30 L954.68,296.70 L955.93,299.62 L956.60,300.60 L956.93,298.82 L958.25,281.02 L959.57,266.07 L959.90,265.00 L960.23,265.89 L960.62,267.85 L961.00,269.45 L961.44,270.34 L962.65,274.97 L964.30,280.66 L965.01,282.27 L965.40,282.80" fill="none" stroke="#000" stroke-width="1.75" stroke-linejoin="round" stroke-linecap="round" />
<path d="M73.80,531.50 L77.13,530.33 L81.57,528.78 L86.84,526.93 L92.71,524.88 L98.92,522.70 L105.20,520.51 L111.31,518.38 L117.00,516.40 L122.34,514.56 L127.60,512.76 L132.83,510.97 L138.07,509.19 L143.37,507.38 L148.76,505.52 L154.29,503.61 L160.00,501.60 L165.92,499.50 L172.01,497.31 L178.24,495.06 L184.56,492.77 L190.94,490.45 L197.34,488.12 L203.70,485.79 L210.00,483.50 L216.39,481.17 L222.97,478.76 L229.63,476.31 L236.25,473.88 L242.71,471.51 L248.91,469.24 L254.71,467.12 L260.00,465.20 L264.70,463.51 L268.88,462.01 L272.66,460.67 L276.17,459.43 L279.53,458.24 L282.88,457.08 L286.32,455.88 L290.00,454.60 L293.99,453.22 L298.21,451.77 L302.54,450.28 L306.85,448.81 L311.01,447.40 L314.89,446.08 L318.36,444.90 L321.30,443.90 L323.51,443.14 L325.04,442.60 L326.10,442.21 L326.91,441.91 L327.70,441.64 L328.68,441.32 L330.07,440.90 L332.10,440.30 L334.83,439.52 L338.07,438.61 L341.68,437.62 L345.51,436.57 L349.40,435.51 L353.21,434.47 L356.80,433.49 L360.00,432.60 L362.84,431.79 L365.46,431.01 L367.92,430.27 L370.27,429.56 L372.55,428.88 L374.81,428.23 L377.12,427.60 L379.50,427.00 L381.95,426.42 L384.40,425.87 L386.85,425.35 L389.30,424.86 L391.75,424.39 L394.20,423.94 L396.65,423.51 L399.10,423.10 L401.54,422.71 L403.98,422.34 L406.42,422.00 L408.86,421.68 L411.29,421.37 L413.73,421.09 L416.16,420.84 L418.60,420.60 L421.07,420.39 L423.59,420.21 L426.12,420.05 L428.65,419.91 L431.14,419.79 L433.56,419.69 L435.89,419.59 L438.10,419.50 L440.18,419.42 L442.17,419.36 L444.08,419.32 L445.91,419.28 L447.69,419.26 L449.42,419.24 L451.12,419.22 L452.80,419.20 L454.42,419.18 L455.95,419.16 L457.42,419.15 L458.86,419.14 L460.29,419.14 L461.76,419.15 L463.29,419.17 L464.90,419.20 L466.57,419.24 L468.26,419.28 L469.97,419.33 L471.73,419.39 L473.55,419.46 L475.44,419.55 L477.42,419.66 L479.50,419.80 L481.71,419.96 L484.05,420.13 L486.49,420.33 L488.99,420.54 L491.54,420.77 L494.09,421.02 L496.62,421.30 L499.10,421.60 L501.54,421.93 L503.98,422.29 L506.42,422.68 L508.86,423.09 L511.29,423.51 L513.73,423.94 L516.16,424.37 L518.60,424.80 L521.02,425.22 L523.42,425.64 L525.81,426.06 L528.20,426.49 L530.61,426.93 L533.06,427.39 L535.55,427.88 L538.10,428.40 L540.74,428.95 L543.46,429.53 L546.24,430.14 L549.05,430.76 L551.86,431.40 L554.64,432.06 L557.36,432.73 L560.00,433.40 L562.55,434.09 L565.02,434.81 L567.44,435.54 L569.84,436.28 L572.22,437.03 L574.61,437.77 L577.03,438.49 L579.50,439.20 L582.09,439.90 L584.81,440.61 L587.58,441.32 L590.36,442.01 L593.05,442.69 L595.60,443.33 L597.94,443.94 L600.00,444.50 L601.68,444.98 L603.00,445.39 L604.07,445.75 L605.02,446.08 L605.95,446.42 L606.98,446.78 L608.23,447.20 L609.80,447.70 L611.62,448.27 L613.53,448.87 L615.56,449.51 L617.74,450.19 L620.09,450.90 L622.63,451.66 L625.39,452.46 L628.40,453.30 L631.81,454.23 L635.67,455.25 L639.83,456.34 L644.14,457.46 L648.46,458.57 L652.65,459.64 L656.54,460.63 L660.00,461.50 L663.01,462.25 L665.70,462.91 L668.15,463.51 L670.44,464.06 L672.65,464.57 L674.84,465.07 L677.10,465.57 L679.50,466.10 L681.99,466.63 L684.46,467.15 L686.94,467.65 L689.44,468.15 L691.98,468.65 L694.58,469.15 L697.24,469.67 L700.00,470.20 L702.86,470.76 L705.83,471.33 L708.86,471.92 L711.96,472.51 L715.08,473.10 L718.21,473.69 L721.32,474.26 L724.40,474.80 L727.45,475.33 L730.50,475.84 L733.55,476.35 L736.60,476.84 L739.65,477.33 L742.70,477.80 L745.75,478.26 L748.80,478.70 L751.83,479.13 L754.84,479.53 L757.84,479.93 L760.85,480.31 L763.87,480.68 L766.93,481.05 L770.04,481.42 L773.20,481.80 L776.42,482.18 L779.68,482.56 L782.98,482.94 L786.31,483.31 L789.68,483.69 L793.09,484.06 L796.53,484.43 L800.00,484.80 L803.51,485.17 L807.05,485.54 L810.63,485.91 L814.24,486.28 L817.88,486.65 L821.56,487.01 L825.26,487.36 L829.00,487.70 L832.72,488.03 L836.42,488.34 L840.12,488.64 L843.87,488.94 L847.69,489.24 L851.63,489.55 L855.72,489.87 L860.00,490.20 L864.45,490.55 L869.05,490.91 L873.77,491.27 L878.62,491.64 L883.58,492.02 L888.66,492.41 L893.83,492.80 L899.10,493.20 L904.83,493.63 L911.17,494.10 L917.83,494.60 L924.49,495.09 L930.85,495.56 L936.59,495.98 L941.41,496.33 L945.00,496.60" fill="none" stroke="#050505" stroke-width="1.7" stroke-linejoin="round" stroke-linecap="round" />
<rect x="321.50" y="437.80" width="9.6" height="9.7" rx="1.2" fill="#000"/>
<rect x="453.40" y="416.60" width="11.3" height="7.9" rx="1.2" fill="#000"/>
<rect x="600.50" y="440.80" width="9.3" height="9.8" rx="1.2" fill="#000"/>
<line x1="183.5" y1="47.9" x2="112.6" y2="97.8" stroke="#111" stroke-width="1.5"/>
<path d="M113.17,97.40 L119.93,87.02 L120.78,92.04 L125.22,94.54 Z" fill="#000" stroke="#000" stroke-width="1" stroke-linejoin="round"/>
<line x1="242.7" y1="54.3" x2="143.8" y2="122.4" stroke="#111" stroke-width="1.5"/>
<path d="M144.38,122.00 L151.24,111.69 L152.04,116.73 L156.46,119.27 Z" fill="#000" stroke="#000" stroke-width="1" stroke-linejoin="round"/>
<line x1="295.1" y1="83.3" x2="209.5" y2="138.4" stroke="#111" stroke-width="1.5"/>
<path d="M210.09,138.02 L217.27,127.93 L217.91,132.99 L222.25,135.66 Z" fill="#000" stroke="#000" stroke-width="1" stroke-linejoin="round"/>
<g transform="matrix(0.9524 0 0 1.0400 1.876 -1.170)"><text x="38.90" y="19.00" text-anchor="middle" font-size="18.5" stroke-width="0.35">200</text></g>
<g transform="matrix(0.9529 0 0 1.0240 1.532 -1.996)"><text x="39.65" y="72.50" text-anchor="middle" font-size="18.5" stroke-width="0.35">150</text></g>
<g transform="matrix(0.9529 0 0 0.9800 1.532 2.455)"><text x="39.65" y="126.20" text-anchor="middle" font-size="18.5" stroke-width="0.35">100</text></g>
<g transform="matrix(0.9731 0 0 0.9800 0.954 3.605)"><text x="43.65" y="178.80" text-anchor="middle" font-size="18.5" stroke-width="0.35">50</text></g>
<g transform="matrix(0.9700 0 0 1.0400 1.520 -8.690)"><text x="49.05" y="217.80" text-anchor="middle" font-size="18.5" stroke-width="0.35">2</text></g>
<g transform="matrix(0.9700 0 0 1.0400 1.499 -12.060)"><text x="49.15" y="288.80" text-anchor="middle" font-size="18.5" stroke-width="0.35">0</text></g>
<g transform="matrix(1.0109 0 0 1.0400 -0.325 -14.430)"><text x="46.05" y="360.00" text-anchor="middle" font-size="18.5" stroke-width="0.35">-2</text></g>
<g transform="matrix(0.9205 0 0 1.0400 3.113 -16.310)"><text x="44.65" y="402.60" text-anchor="middle" font-size="18.5" stroke-width="0.35">1.5</text></g>
<g transform="matrix(0.9700 0 0 1.0367 1.295 -16.512)"><text x="51.25" y="449.50" text-anchor="middle" font-size="18.5" stroke-width="0.35">1</text></g>
<g transform="matrix(0.9655 0 0 1.0400 1.497 -20.280)"><text x="44.10" y="497.90" text-anchor="middle" font-size="18.5" stroke-width="0.35">0.5</text></g>
<g transform="matrix(0.9700 0 0 1.0240 1.501 -13.280)"><text x="50.85" y="544.80" text-anchor="middle" font-size="18.5" stroke-width="0.35">0</text></g>
<g transform="matrix(0.9700 0 0 1.0320 1.871 -18.136)"><text x="59.95" y="560.30" text-anchor="middle" font-size="18.5" stroke-width="0.35">0</text></g>
<g transform="matrix(0.8862 0 0 1.0400 22.131 -22.780)"><text x="197.70" y="560.40" text-anchor="middle" font-size="18.5" stroke-width="0.35">10</text></g>
<g transform="matrix(0.9529 0 0 1.0320 15.532 -18.178)"><text x="333.10" y="560.00" text-anchor="middle" font-size="18.5" stroke-width="0.35">20</text></g>
<g transform="matrix(0.9373 0 0 1.0400 29.364 -23.040)"><text x="469.55" y="560.70" text-anchor="middle" font-size="18.5" stroke-width="0.35">30</text></g>
<g transform="matrix(0.9391 0 0 1.0400 36.978 -22.880)"><text x="604.80" y="560.50" text-anchor="middle" font-size="18.5" stroke-width="0.35">40</text></g>
<g transform="matrix(0.9194 0 0 1.0400 59.648 -22.880)"><text x="741.50" y="560.50" text-anchor="middle" font-size="18.5" stroke-width="0.35">50</text></g>
<g transform="matrix(0.9471 0 0 1.0400 46.469 -23.040)"><text x="877.75" y="560.70" text-anchor="middle" font-size="18.5" stroke-width="0.35">60</text></g>
<g transform="matrix(0.9697 0 0 1.0400 30.485 -22.880)"><text x="1014.00" y="560.50" text-anchor="middle" font-size="18.5" stroke-width="0.35">70</text></g>
<g transform="matrix(0.9220 0 0 1.0121 41.685 -11.158)"><text x="530.55" y="603.20" text-anchor="middle" font-size="18.5" stroke-width="0.35">Time (s)</text></g>
<g transform="matrix(0.9398 0 0 0.9800 11.980 0.695)"><text x="202.65" y="43.30" text-anchor="middle" font-size="18.5" stroke-width="0.35">SBP</text></g>
<g transform="matrix(0.9084 0 0 0.9800 24.537 1.097)"><text x="265.60" y="49.80" text-anchor="middle" font-size="18.5" stroke-width="0.35">MAP</text></g>
<g transform="matrix(0.9159 0 0 1.0400 26.662 -3.280)"><text x="316.10" y="78.70" text-anchor="middle" font-size="18.5" stroke-width="0.35">DBP</text></g>
<g transform="matrix(0.9503 0 0 1.0160 15.650 -7.664)"><text x="324.85" y="466.30" text-anchor="middle" font-size="18.5" stroke-width="0.35">SBPA</text></g>
<g transform="matrix(0.9034 0 0 1.0122 44.021 -5.455)"><text x="457.80" y="445.50" text-anchor="middle" font-size="18.5" stroke-width="0.35">MA</text></g>
<g transform="matrix(0.9362 0 0 1.0286 38.257 -13.429)"><text x="602.30" y="470.00" text-anchor="middle" font-size="18.5" stroke-width="0.35">DBPA</text></g>
<g transform="matrix(0.9194 0 0 1.0299 1.673 -2.703)"><text x="0" y="0" text-anchor="middle" font-size="18.5" stroke-width="0.12" transform="translate(17.90,91.40) rotate(-90)">CP (mmHg)</text></g>
<g transform="matrix(0.9433 0 0 1.0176 1.312 -4.900)"><text x="0" y="0" text-anchor="middle" font-size="18.5" stroke-width="0.12" transform="translate(18.30,282.05) rotate(-90)">OMW (arbitrary unit)</text></g>
<g transform="matrix(0.9373 0 0 1.0048 1.379 -2.324)"><text x="0" y="0" text-anchor="middle" font-size="18.5" stroke-width="0.12" transform="translate(18.00,464.05) rotate(-90)">OWE (arbitrary unit)</text></g>
<line x1="324.10" y1="544.80" x2="329.70" y2="544.80" stroke="#222" stroke-width="1.5"/>
</g>
</svg>
</body></html>
